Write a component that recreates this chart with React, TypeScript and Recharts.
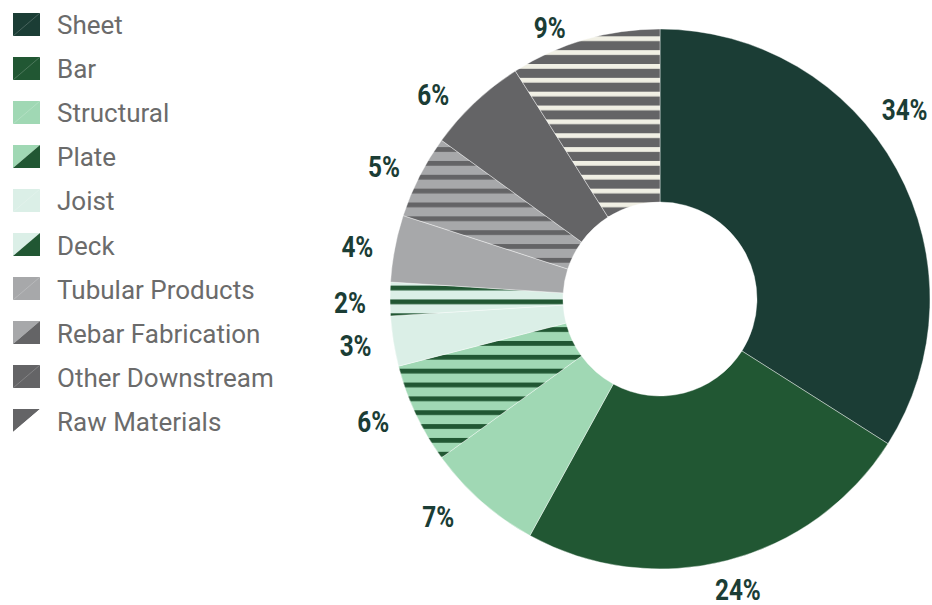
import React from 'react';
import { PieChart, Pie, Cell, Legend } from 'recharts';

// ---- data ----
const categories = [
  'Sheet',
  'Bar',
  'Structural',
  'Plate',
  'Joist',
  'Deck',
  'Tubular Products',
  'Rebar Fabrication',
  'Other Downstream',
  'Raw Materials',
];
const shares = [34, 24, 7, 6, 3, 2, 4, 5, 6, 9];

// ---- styles ----
const baseColors = ['#1b3d35', '#215733', '#a0d8b4', '#a0d8b4', '#dbefe7', '#dbefe7', '#a7a8aa', '#a7a8aa', '#646466', '#646466'];
const stripeColors: (string | null)[] = [null, null, null, '#215733', null, '#215733', null, '#646466', null, '#f0efe4'];
const legendStripeColors: (string | null)[] = [null, null, null, '#215733', null, '#215733', null, '#646466', null, '#ffffff'];
// label placement tweaks: [angle shift in degrees (clockwise), distance from center]
const labelTweaks: [number, number][] = [
  [-8.85, 309],
  [-0.6, 301],
  [4.1, 311],
  [2.0, 312],
  [0.2, 308],
  [-0.7, 310],
  [-1.1, 307],
  [-1.4, 306],
  [-4.85, 305],
  [-5.9, 293],
];

const data = categories.map((name, i) => ({ name, value: shares[i] }));

const fillFor = (i: number) => (stripeColors[i] ? `url(#stripe-${i})` : baseColors[i]);

const RAD = Math.PI / 180;
const LABEL_SCALE_X = 0.84;

const renderLabel = (props: any) => {
  const { cx, cy, midAngle, index, value } = props;
  const [shift, dist] = labelTweaks[index];
  const ang = midAngle - shift;
  const x = cx + dist * Math.cos(ang * RAD);
  const y = cy - dist * Math.sin(ang * RAD);
  return (
    <text
      x={0}
      y={10}
      transform={`translate(${x},${y}) scale(${LABEL_SCALE_X},1)`}
      textAnchor="middle"
      fill="#1b3d35"
      style={{ fontFamily: 'Roboto, sans-serif', fontWeight: 700, fontSize: 29 }}
    >
      {`${value}%`}
    </text>
  );
};

const renderLegend = () => (
  <div style={{ position: 'absolute', left: 13, top: 2 }}>
    {categories.map((name, i) => (
      <div key={name} style={{ display: 'flex', alignItems: 'center', height: 44.1 }}>
        <svg width={27} height={23} style={{ display: 'block' }}>
          {legendStripeColors[i] ? (
            <>
              <polygon points="0,0 27,0 0,23" fill={baseColors[i]} />
              <polygon points="27,0 27,23 0,23" fill={legendStripeColors[i] as string} />
            </>
          ) : (
            <>
              <rect width={27} height={23} fill={baseColors[i]} />
              <line x1={0} y1={23} x2={27} y2={0} stroke="#ffffff" strokeOpacity={0.25} strokeWidth={0.8} />
            </>
          )}
        </svg>
        <span
          style={{
            marginLeft: 17,
            fontFamily: 'Roboto, sans-serif',
            fontSize: 26,
            fontWeight: 400,
            color: '#6b6b6b',
            lineHeight: '26px',
            whiteSpace: 'nowrap',
            position: 'relative',
            top: 1,
          }}
        >
          {name}
        </span>
      </div>
    ))}
  </div>
);

export default function App() {
  return (
    <div style={{ position: 'absolute', left: 0, top: 0, width: 932, height: 605, background: '#ffffff' }}>
      <PieChart width={932} height={605} margin={{ top: 0, right: 0, bottom: 0, left: 0 }}>
        <defs>
          {stripeColors.map((s, i) =>
            s ? (
              <pattern
                key={i}
                id={`stripe-${i}`}
                patternUnits="userSpaceOnUse"
                x={0}
                y={8.6}
                width={20}
                height={13.85}
              >
                <rect x={0} y={0} width={20} height={13.85} fill={baseColors[i]} />
                <rect x={0} y={0} width={20} height={4.8} fill={s} />
              </pattern>
            ) : null
          )}
        </defs>
        <Legend
          layout="vertical"
          align="center"
          verticalAlign="middle"
          content={renderLegend}
          wrapperStyle={{ left: 0, top: 0, width: 300, height: 450 }}
        />
        <Pie
          data={data}
          dataKey="value"
          nameKey="name"
          cx={660}
          cy={299}
          innerRadius={97}
          outerRadius={270}
          startAngle={90}
          endAngle={-270}
          label={renderLabel}
          labelLine={false}
          isAnimationActive={false}
          stroke="#ffffff"
          strokeWidth={0.4}
        >
          {data.map((d, i) => (
            <Cell key={d.name} fill={fillFor(i)} />
          ))}
        </Pie>
      </PieChart>
    </div>
  );
}
